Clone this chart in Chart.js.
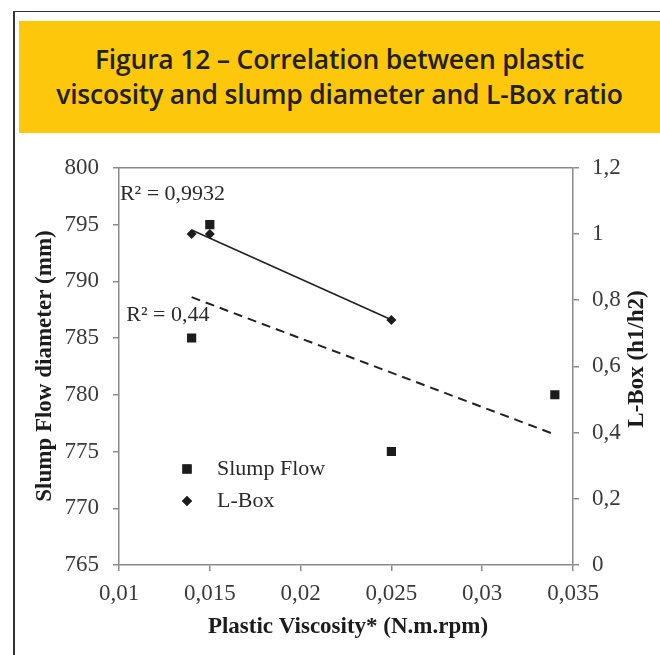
<!DOCTYPE html>
<html>
<head>
    <title>Figura 12 - Plastic viscosity vs slump and L-Box</title>
    <script src="https://cdn.jsdelivr.net/npm/chart.js@4.4.1/dist/chart.umd.min.js"></script>
    <style>
        body {
            margin: 0;
            background: #ffffff;
            width: 660px;
            height: 655px;
            overflow: hidden;
            position: relative;
        }
        .frame {
            position: absolute;
            left: 13px;
            top: 11px;
            width: 700px;
            height: 700px;
            border-left: 2px solid #333333;
            border-top: 1.5px solid #333333;
        }
        .header {
            position: absolute;
            left: 19px;
            top: 21px;
            width: 641px;
            height: 112px;
            background: #fdc70c;
            display: flex;
            flex-direction: column;
            justify-content: center;
            align-items: center;
            font-family: 'Open Sans', sans-serif;
            font-weight: 600;
            font-size: 26.5px;
            line-height: 35px;
            color: #231f20;
            text-align: center;
            letter-spacing: -0.2px;
        }
        .chart-box {
            position: absolute;
            left: 0;
            top: 140px;
            width: 660px;
            height: 515px;
        }
    </style>
</head>
<body>
    <div class="frame"></div>
    <div class="header">
        <div>Figura 12 – Correlation between plastic</div>
        <div>viscosity and slump diameter and L-Box ratio</div>
    </div>
    <div class="chart-box">
        <canvas id="chart"></canvas>
    </div>

    <script>
        // data
        const slumpX = [0.014, 0.015, 0.025, 0.034];
        const slumpY = [785, 795, 775, 780];
        const lboxX = [0.014, 0.015, 0.025];
        const lboxY = [1.0, 1.0, 0.74];

        // trendline end points (as drawn in the figure)
        const slumpTrendX = [0.014, 0.034];
        const slumpTrendY = [788.6, 776.5];
        const lboxTrendX = [0.014, 0.025];
        const lboxTrendY = [1.012, 0.741];

        const xTickLabels = ['0,01', '0,015', '0,02', '0,025', '0,03', '0,035'];
        const yTickLabels = ['765', '770', '775', '780', '785', '790', '795', '800'];
        const y1TickLabels = ['0', '0,2', '0,4', '0,6', '0,8', '1', '1,2'];

        const toPoints = (xs, ys) => xs.map((x, i) => ({ x: x, y: ys[i] }));

        const serif = "'Liberation Serif', 'Times New Roman', serif";
        const axisGray = '#8a8a8a';
        const labelColor = '#3a3a3a';
        const ink = '#1c1c1c';

        // extra drawing: top border, R² labels, legend, axis titles
        const extras = {
            id: 'extras',
            afterDatasetsDraw(chart) {
                const c = chart.ctx;
                const a = chart.chartArea;
                const xs = chart.scales.x;
                const ys = chart.scales.y;

                c.save();
                // top border of plot box
                c.strokeStyle = axisGray;
                c.lineWidth = 1.5;
                c.beginPath();
                c.moveTo(a.left, a.top);
                c.lineTo(a.right, a.top);
                c.stroke();

                // R² labels
                c.fillStyle = '#2a2a2a';
                c.font = '22px ' + serif;
                c.textBaseline = 'middle';
                c.textAlign = 'left';
                c.fillText('R² = 0,9932', xs.getPixelForValue(0.01005), ys.getPixelForValue(797.7));
                c.fillText('R² = 0,44', xs.getPixelForValue(0.0104), ys.getPixelForValue(787.0));

                // legend
                const legendRows = [
                    { label: chart.data.datasets[0].label, style: 'rect', r: 6.5, y: 329 },
                    { label: chart.data.datasets[1].label, style: 'rectRot', r: 5, y: 361 }
                ];
                legendRows.forEach(row => {
                    c.fillStyle = ink;
                    Chart.helpers.drawPoint(c, { pointStyle: row.style, radius: row.r, borderWidth: 0 }, 187, row.y);
                    c.fill();
                    c.fillStyle = '#2a2a2a';
                    c.fillText(row.label, 217, row.y);
                });

                // axis titles
                c.fillStyle = ink;
                c.font = 'bold 23px ' + serif;
                c.textAlign = 'center';
                c.fillText('Plastic Viscosity* (N.m.rpm)', 348, 487);

                c.save();
                c.translate(45, 226);
                c.rotate(-Math.PI / 2);
                c.fillText('Slump Flow diameter (mm)', 0, 0);
                c.restore();

                c.save();
                c.translate(637, 219);
                c.rotate(-Math.PI / 2);
                c.fillText('L-Box (h1/h2)', 0, 0);
                c.restore();

                c.restore();
            }
        };

        const gridOpts = {
            drawOnChartArea: false,
            color: axisGray,
            tickLength: 6,
            lineWidth: 1.5
        };
        const borderOpts = { color: axisGray, width: 1.5 };
        const tickFont = { family: serif, size: 23 };

        new Chart(document.getElementById('chart'), {
            type: 'scatter',
            data: {
                datasets: [
                    {
                        label: 'Slump Flow',
                        data: toPoints(slumpX, slumpY),
                        yAxisID: 'y',
                        pointStyle: 'rect',
                        pointRadius: 6.5,
                        pointBackgroundColor: ink,
                        pointBorderWidth: 0,
                        order: 1
                    },
                    {
                        label: 'L-Box',
                        data: toPoints(lboxX, lboxY),
                        yAxisID: 'y1',
                        pointStyle: 'rectRot',
                        pointRadius: 5,
                        pointBackgroundColor: ink,
                        pointBorderWidth: 0,
                        order: 1
                    },
                    {
                        label: 'L-Box trend',
                        data: toPoints(lboxTrendX, lboxTrendY),
                        yAxisID: 'y1',
                        showLine: true,
                        borderColor: '#222222',
                        borderWidth: 1.6,
                        pointRadius: 0,
                        order: 2
                    },
                    {
                        label: 'Slump Flow trend',
                        data: toPoints(slumpTrendX, slumpTrendY),
                        yAxisID: 'y',
                        showLine: true,
                        borderColor: '#222222',
                        borderWidth: 2,
                        borderDash: [9, 6],
                        pointRadius: 0,
                        order: 2
                    }
                ]
            },
            options: {
                responsive: true,
                maintainAspectRatio: false,
                animation: false,
                layout: { padding: { top: 24, left: 0, right: 0, bottom: 0 } },
                plugins: {
                    legend: { display: false },
                    tooltip: { enabled: false }
                },
                scales: {
                    x: {
                        type: 'linear',
                        min: 0.01,
                        max: 0.035,
                        afterFit: s => { s.height = 90; },
                        ticks: {
                            stepSize: 0.005,
                            autoSkip: false,
                            maxRotation: 0,
                            padding: 9,
                            color: labelColor,
                            font: tickFont,
                            callback: (v, i) => xTickLabels[i]
                        },
                        grid: gridOpts,
                        border: borderOpts
                    },
                    y: {
                        position: 'left',
                        min: 765,
                        max: 800,
                        afterFit: s => { s.width = 119; },
                        ticks: {
                            stepSize: 5,
                            padding: 14,
                            color: labelColor,
                            font: tickFont,
                            callback: (v, i) => yTickLabels[i]
                        },
                        grid: gridOpts,
                        border: borderOpts
                    },
                    y1: {
                        position: 'right',
                        min: 0,
                        max: 1.2,
                        afterFit: s => { s.width = 87; },
                        ticks: {
                            stepSize: 0.2,
                            padding: 13,
                            color: labelColor,
                            font: tickFont,
                            callback: (v, i) => y1TickLabels[i]
                        },
                        grid: gridOpts,
                        border: borderOpts
                    }
                }
            },
            plugins: [extras]
        });
    </script>
</body>
</html>
